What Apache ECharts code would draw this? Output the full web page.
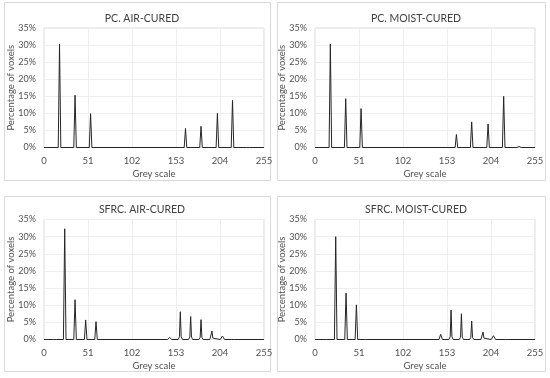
<!DOCTYPE html>
<html><head><meta charset="utf-8">
<script src="https://cdn.jsdelivr.net/npm/echarts@6/dist/echarts.min.js"></script>
<style>html,body{margin:0;padding:0;background:#fff}#c{width:550px;height:378px}</style>
</head><body><div id="c"></div>
<script>
// Titles
var titles = ['PC. AIR-CURED', 'PC. MOIST-CURED', 'SFRC. AIR-CURED', 'SFRC. MOIST-CURED'];
var xTicks = [0, 51, 102, 153, 204, 255];
var yTicks = [0, 5, 10, 15, 20, 25, 30, 35];

// PC air-cured (grey value, % voxels)
var pcAirX = [0, 16.5, 18, 19.5, 34.5, 36, 37.5, 52.5, 54, 55.5, 162.5, 164, 165.5, 180.5, 182, 183.5, 199.5, 201, 202.5, 217, 218.5, 220, 235, 236.5, 238, 255];
var pcAirY = [0, 0, 30.3, 0, 0, 15.3, 0, 0, 9.9, 0, 0, 5.6, 0, 0, 6.2, 0, 0, 10.0, 0, 0, 13.8, 0, 0, 0.15, 0, 0];

// PC moist-cured
var pcMoistX = [0, 16.3, 17.8, 19.3, 34.1, 35.6, 37.1, 51.9, 53.4, 54.9, 162.4, 163.9, 165.4, 180.1, 181.6, 183.1, 199.1, 200.6, 202.1, 217.2, 218.7, 220.2, 234, 236.5, 239, 255];
var pcMoistY = [0, 0, 30.3, 0, 0, 14.3, 0, 0, 11.4, 0, 0, 3.8, 0, 0, 7.5, 0, 0, 6.9, 0, 0, 15.0, 0, 0, 0.3, 0, 0];

// SFRC air-cured
var sfrcAirX = [0, 11, 12.8, 14.5, 22.5, 24, 25.5, 34.5, 36, 37.5, 46.8, 48.3, 49.8, 58.8, 60.3, 61.8,
  143.2, 145.7, 148.2, 155.5, 157, 158, 159, 160.5, 167.5, 169, 170, 171, 172.5, 179.5, 181, 182, 183, 184.5,
  192.2, 193.7, 194.7, 195.7, 197.2, 204.3, 206.8, 209.3, 217, 219, 221, 255];
var sfrcAirY = [0, 0, 0.3, 0, 0, 32.3, 0, 0, 11.6, 0, 0, 5.7, 0, 0, 5.2, 0,
  0, 0.6, 0, 0, 0.8, 8.1, 0.8, 0, 0, 0.7, 6.7, 0.7, 0, 0, 0.6, 5.8, 0.6, 0,
  0, 0.4, 2.5, 0.4, 0, 0, 1.0, 0, 0, 0.2, 0, 0];

// SFRC moist-cured
var sfrcMoistX = [0, 10.5, 12, 13.5, 22.5, 24, 25.5, 34.5, 36, 37.5, 46.5, 48, 49.5, 58.5, 60, 61.5,
  143.7, 145.7, 147.7, 155.2, 156.7, 157.7, 158.7, 160.2, 167.2, 168.7, 169.7, 170.7, 172.2, 179.1, 180.6, 181.6, 182.6, 184.1,
  192.3, 193.8, 194.8, 195.8, 197.3, 204.3, 206.8, 209.3, 216.8, 218.8, 220.8, 255];
var sfrcMoistY = [0, 0, 0.2, 0, 0, 30.0, 0, 0, 13.5, 0, 0, 10.1, 0, 0, 0.2, 0,
  0, 1.5, 0, 0, 0.8, 8.6, 0.8, 0, 0, 0.7, 7.5, 0.7, 0, 0, 0.6, 5.4, 0.6, 0,
  0, 0.4, 2.2, 0.4, 0, 0, 1.1, 0, 0, 0.2, 0, 0];

var seriesX = [pcAirX, pcMoistX, sfrcAirX, sfrcMoistX];
var seriesY = [pcAirY, pcMoistY, sfrcAirY, sfrcMoistY];

var FONT = 'Lato';
var TXT = '#505050';
var grids = [
  {left: 44, top: 28, width: 220, height: 119.5},
  {left: 315, top: 28, width: 220, height: 119.5},
  {left: 44, top: 219.5, width: 220, height: 120},
  {left: 315, top: 219.5, width: 220, height: 120}
];
var titleCenters = [[137, 8], [411, 8], [137, 199], [411, 199]];
var panels = [[4, 2, 266, 178], [277, 2, 268, 178], [4, 196, 266, 175], [277, 196, 268, 175]];

var opt = {
  backgroundColor: '#fff',
  animation: false,
  title: [], grid: [], xAxis: [], yAxis: [], series: [],
  graphic: panels.map(function (p) {
    return {type: 'rect', shape: {x: p[0] + 0.5, y: p[1] + 0.5, width: p[2], height: p[3]},
      style: {fill: 'none', stroke: '#d9d9d9', lineWidth: 1}, z: -1};
  })
};
for (var i = 0; i < 4; i++) {
  opt.title.push({text: titles[i], left: titleCenters[i][0], top: titleCenters[i][1], textAlign: 'center',
    textStyle: {fontFamily: FONT, fontSize: 10.5, fontWeight: 'normal', color: '#404040'}});
  opt.grid.push(Object.assign({show: true, borderColor: '#d9d9d9', borderWidth: 1, backgroundColor: 'transparent'}, grids[i]));
  opt.xAxis.push({type: 'value', gridIndex: i, min: xTicks[0], max: xTicks[xTicks.length - 1], interval: xTicks[1] - xTicks[0],
    name: 'Grey scale', nameLocation: 'middle', nameGap: 21, nameMoveOverlap: false,
    nameTextStyle: {fontFamily: FONT, fontSize: 9.5, color: TXT},
    axisLine: {show: false}, axisTick: {show: false},
    axisLabel: {fontFamily: FONT, fontSize: 9.5, color: TXT, margin: 8},
    splitLine: {show: true, lineStyle: {color: '#eeeeee', width: 1}}});
  opt.yAxis.push({type: 'value', gridIndex: i, min: yTicks[0], max: yTicks[yTicks.length - 1], interval: yTicks[1] - yTicks[0],
    name: 'Percentage of voxels', nameLocation: 'middle', nameGap: 28.5, nameMoveOverlap: false,
    nameTextStyle: {fontFamily: FONT, fontSize: 9.5, color: TXT},
    axisLine: {show: false}, axisTick: {show: false},
    axisLabel: {fontFamily: FONT, fontSize: 9, color: TXT, margin: 8, formatter: '{value}%'},
    splitLine: {show: true, lineStyle: {color: '#eeeeee', width: 1}}});
  var d = seriesX[i].map(function (x, k) { return [x, seriesY[i][k]]; });
  opt.series.push({type: 'line', xAxisIndex: i, yAxisIndex: i, data: d, showSymbol: false, symbol: 'none',
    lineStyle: {color: '#262626', width: 1}});
}
var chart = echarts.init(document.getElementById('c'), null, {renderer: 'canvas'});
chart.setOption(opt);
</script></body></html>
